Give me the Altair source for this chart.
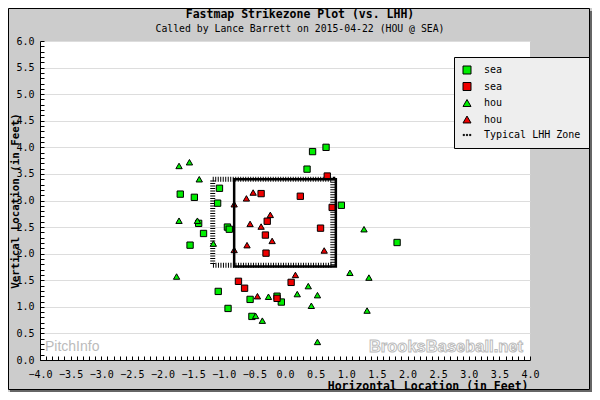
import altair as alt
import pandas as pd

# -----------------------------
# DATA (feet)
# -----------------------------
sea_green_x = [-1.71, -1.48, -1.07, -1.10, -1.41, -1.33, -1.55, -0.94, -0.91, 0.67,
               0.45, 0.36, 0.92, 1.83, -1.09, -0.13, -0.57, -0.06, -0.93, -0.54]
sea_green_y = [3.12, 3.06, 3.23, 2.95, 2.57, 2.38, 2.16, 2.50, 2.46, 4.00,
               3.92, 3.59, 2.91, 2.21, 1.29, 1.20, 1.14, 1.09, 0.97, 0.82]

sea_red_x = [0.69, -0.39, 0.25, 0.77, -0.29, 0.58, -0.32, -0.31, -0.76, 0.10, -0.66, -0.13]
sea_red_y = [3.46, 3.13, 3.08, 2.87, 2.61, 2.48, 2.35, 2.01, 1.48, 1.46, 1.35, 1.16]

hou_green_x = [-1.56, -1.73, -1.40, -1.73, -1.43, -1.17, -1.77, 1.29, 1.06, 1.37,
               0.38, 0.20, 0.53, -0.27, 0.43, 1.34, -0.48, -0.37, 0.53]
hou_green_y = [3.72, 3.65, 3.40, 2.62, 2.62, 2.19, 1.57, 2.46, 1.64, 1.55,
               1.39, 1.24, 1.22, 1.19, 1.02, 0.93, 0.83, 0.74, 0.34]

hou_red_x = [-0.63, -0.52, -0.57, -0.62, -0.24, -0.39, -0.21, 0.64, 0.17, -0.45, -0.83, -0.83]
hou_red_y = [3.04, 3.15, 2.56, 2.16, 2.73, 2.51, 2.24, 2.06, 1.60, 1.20, 2.93, 2.07]

# strike zone and typical LHH zone
zone_x = [-0.83, 0.83]
zone_y = [1.76, 3.40]
lhh_x = [-1.18, 0.78]
lhh_y = [1.78, 3.40]

# legend entries
keys = ["sea_g", "sea_r", "hou_g", "hou_r", "zone"]
key_colors = ["#00ee00", "#ee0000", "#00ee00", "#ee0000", "black"]
DOTS = ("M-0.95,-0.15h0.3v0.3h-0.3z M-0.15,-0.15h0.3v0.3h-0.3z "
        "M0.65,-0.15h0.3v0.3h-0.3z")
key_shapes = ["square", "square", "triangle-up", "triangle-up", DOTS]

x_half = [round(-4 + 0.5 * i, 1) for i in range(17)]
x_tenth = [round(-4 + 0.1 * i, 1) for i in range(81)]
y_half = [round(0.5 * i, 1) for i in range(13)]
y_tenth = [round(0.1 * i, 1) for i in range(61)]

TITLE = "Fastmap Strikezone Plot (vs. LHH)"
SUBTITLE = "Called by Lance Barrett on 2015-04-22 (HOU @ SEA)"

MONO = "DejaVu Sans Mono"
PLOT_W, PLOT_H = 490, 319

# -----------------------------
# TABLES
# -----------------------------
rows = []
for key, xs, ys in [("sea_g", sea_green_x, sea_green_y), ("sea_r", sea_red_x, sea_red_y),
                    ("hou_g", hou_green_x, hou_green_y), ("hou_r", hou_red_x, hou_red_y)]:
    for px, pz in zip(xs, ys):
        rows.append({"px": px, "pz": pz, "key": key})
pitches = pd.DataFrame(rows)

zone_df = pd.DataFrame({"x1": [zone_x[0]], "x2": [zone_x[1]], "y1": [zone_y[0]], "y2": [zone_y[1]]})
lhh_df = pd.DataFrame({"x1": [lhh_x[0]], "x2": [lhh_x[1]], "y1": [lhh_y[0]], "y2": [lhh_y[1]]})
one = pd.DataFrame({"v": [0]})

x_scale = alt.Scale(domain=[-4, 4], nice=False, zero=False)
y_scale = alt.Scale(domain=[0, 6], nice=False, zero=False)

# -----------------------------
# AXES
# -----------------------------
x_label_axis = alt.Axis(
    orient="bottom", values=x_half, format=".1f", ticks=False, tickSize=0,
    labelPadding=9, labelFont=MONO, labelFontSize=10, labelColor="black",
    labelFlush=False, labelOverlap=False, domainColor="black", grid=False,
    title="Horizontal Location (in Feet)", titleFont=MONO, titleFontSize=11.5,
    titleFontWeight="bold", titleColor="black", titleAlign="right",
    titleBaseline="alphabetic", titleX=488, titleY=29,
)
y_label_axis = alt.Axis(
    orient="left", values=y_half, format=".1f", ticks=False, tickSize=0,
    labelPadding=6, labelFont=MONO, labelFontSize=10, labelColor="black",
    labelFlush=False, labelOverlap=False, domainColor="black",
    grid=True, gridColor="#dddddd",
    title="Vertical Location (in Feet)", titleFont=MONO, titleFontSize=10.8,
    titleFontWeight="bold", titleColor="black", titleAngle=270, titleAlign="center",
    titleBaseline="alphabetic", titleX=-21.5, titleY=PLOT_H / 2,
)
# inward minor ticks: axes on the opposite side moved onto the plot edge
x_tick_axis = alt.Axis(orient="top", offset=-PLOT_H, values=x_tenth, labels=False,
                       tickSize=4, tickColor="black", domain=False, grid=False, title=None)
y_tick_axis = alt.Axis(orient="right", offset=-PLOT_W, values=y_tenth, labels=False,
                       tickSize=4, tickColor="black", domain=False, grid=False, title=None)

# -----------------------------
# FRAME, TITLES AND WATERMARKS
# -----------------------------
base = alt.Chart(one)
frame = base.mark_rect(fill="transparent", stroke="black", strokeWidth=1).encode(
    x=alt.value(-31.5), x2=alt.value(549.5), y=alt.value(-32.5), y2=alt.value(348.5))
shadow_r = base.mark_rect(fill="#666666").encode(
    x=alt.value(550), x2=alt.value(552), y=alt.value(-30), y2=alt.value(351))
shadow_b = base.mark_rect(fill="#666666").encode(
    x=alt.value(-30), x2=alt.value(552), y=alt.value(349), y2=alt.value(351))

title = base.mark_text(text=TITLE, font=MONO, fontSize=11.5, fontWeight="bold",
                       color="black", align="center").encode(
    x=alt.value(260), y=alt.value(-26))
subtitle = base.mark_text(text=SUBTITLE, font=MONO, fontSize=9.8,
                          color="black", align="center").encode(
    x=alt.value(260), y=alt.value(-12))

pitchinfo = base.mark_text(text="PitchInfo", font="Liberation Sans", fontSize=14,
                           color="#bbbbbb", align="left").encode(
    x=alt.value(5), y=alt.value(306))
brooks = base.mark_text(text="BrooksBaseball.net", font="Liberation Sans", fontSize=16.5,
                        fontWeight="bold", fill="white", stroke="#bbbbbb", strokeWidth=1,
                        align="right").encode(x=alt.value(483), y=alt.value(306))

# -----------------------------
# ZONES AND PITCHES
# -----------------------------
lhh = alt.Chart(lhh_df).mark_rect(fill="transparent", stroke="black", strokeWidth=5,
                                  strokeDash=[1, 1.5]).encode(
    x=alt.X("x1:Q", scale=x_scale, axis=None), x2="x2:Q",
    y=alt.Y("y1:Q", scale=y_scale, axis=None), y2="y2:Q")

points = alt.Chart(pitches).mark_point(filled=True, size=40, stroke="black",
                                       strokeWidth=1, opacity=1).encode(
    x=alt.X("px:Q", scale=x_scale, axis=x_label_axis),
    y=alt.Y("pz:Q", scale=y_scale, axis=y_label_axis),
    color=alt.Color("key:N", scale=alt.Scale(domain=keys, range=key_colors),
                    legend=alt.Legend(
                        orient="none", legendX=414, legendY=16, title=None,
                        fillColor="#eeeeee", strokeColor="black", padding=8,
                        labelFont=MONO, labelFontSize=10, labelColor="black",
                        symbolSize=64, symbolStrokeColor="black", symbolStrokeWidth=1,
                        rowPadding=4.5, labelOffset=12,
                        labelExpr="datum.label == 'zone' ? 'Typical LHH Zone' : slice(datum.label, 0, 3)")),
    shape=alt.Shape("key:N", scale=alt.Scale(domain=keys, range=key_shapes)),
)

zone = alt.Chart(zone_df).mark_rect(fill="transparent", stroke="black", strokeWidth=2.5).encode(
    x=alt.X("x1:Q", scale=x_scale, axis=x_tick_axis), x2="x2:Q",
    y=alt.Y("y1:Q", scale=y_scale, axis=y_tick_axis), y2="y2:Q")

legend_shadow = base.mark_rect(fill="#999999").encode(
    x=alt.value(418), x2=alt.value(549), y=alt.value(20), y2=alt.value(104))

chart = alt.layer(
    frame, shadow_r, shadow_b, title, subtitle, pitchinfo, brooks,
    lhh, points, zone, legend_shadow
).resolve_axis(x="independent", y="independent").properties(
    width=PLOT_W, height=PLOT_H,
    autosize=alt.AutoSizeParams(type="none"),
    padding={"left": 32, "top": 33, "right": 62, "bottom": 32},
).configure(background="#cccccc").configure_view(fill="white", strokeWidth=0)

chart.save("out.html", embed_options={"renderer": "svg", "actions": False})
